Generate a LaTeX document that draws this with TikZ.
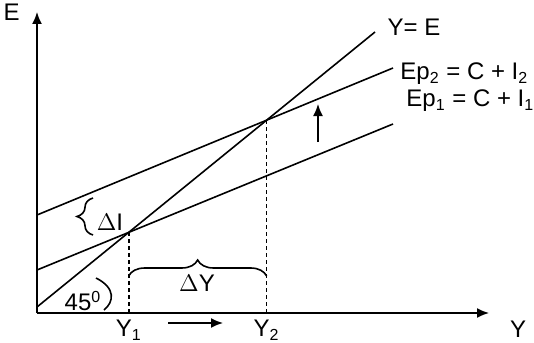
\documentclass[tikz,border=0pt]{standalone}
\usepackage{fontspec}
\setmainfont{Liberation Sans}
\usetikzlibrary{positioning, calc, arrows.meta, intersections, decorations.pathreplacing}

\begin{document}
\begin{tikzpicture}[x=0.5pt, y=-0.5pt, line width=0.8pt,
    font=\fontsize{12}{14}\selectfont,
    arr/.style={-{Latex[length=6pt, width=5pt]}},
    guide/.style={dash pattern=on 2pt off 1.5pt},
    curly/.style={decorate, decoration={brace, amplitude=8pt}}]
    \useasboundingbox (0,0) rectangle (534,342);
    % axes
    \coordinate (O) at (37,313);
    \draw[arr] (O) -- (37,12) node[pos=1, left=5pt] (elab) {E};
    \draw[arr] (O) -- (489,313);
    \node (ylab) at (518,329) {Y};
    % lines
    \draw[name path=yeqe] (37,307) -- (375,32);
    \draw[name path=ep1] (37,270) -- (393,124);
    \draw[name path=ep2] (37,215) -- (393,68);
    \path[name intersections={of=yeqe and ep1, by=A}];
    \path[name intersections={of=yeqe and ep2, by=B}];
    \node (lyeqe) at (414,27) {Y= E};
    \node[anchor=west] (lep2) at (393,74) {Ep\textsubscript{2} = C + I\textsubscript{2}};
    \node[anchor=west] (lep1) at (399,101) {Ep\textsubscript{1} = C + I\textsubscript{1}};
    % equilibria
    \draw[guide] (A) -- (A |- O);
    \draw[guide] (B) -- (B |- O);
    \node (y1) at (A |- 0,330) {Y\textsubscript{1}};
    \node (y2) at (B |- 0,330) {Y\textsubscript{2}};
    \draw[arr] (168,323) -- (223,323);
    \draw[arr] (318,142) -- (318,104);
    % changes
    \draw[curly] (93,235) -- (93,198);
    \node (di) at (110,222) {$\Delta$I};
    \draw[curly] (A |- 0,276) -- (B |- 0,276);
    \node (dy) at (197,283) {$\Delta$Y};
    \draw (96,278) .. controls (116,288) and (114,302) .. (104,310);
    \node (ang) at (83,301) {45\textsuperscript{0}};
\end{tikzpicture}
\end{document}
